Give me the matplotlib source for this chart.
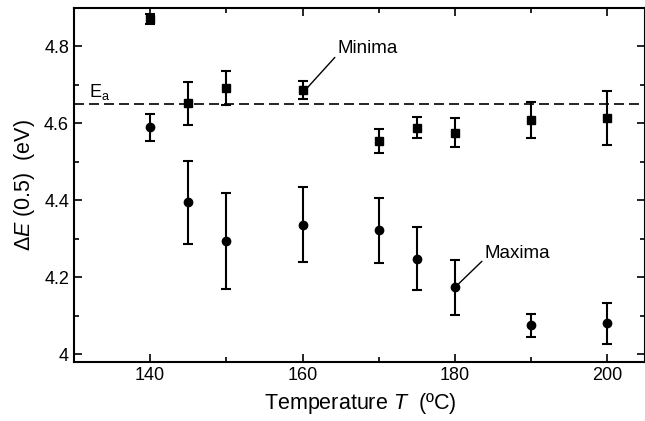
import matplotlib; matplotlib.use("Agg")
import matplotlib.pyplot as plt
from matplotlib.ticker import MultipleLocator, FuncFormatter

plt.rcParams['font.family'] = ['Liberation Sans', 'DejaVu Sans']
plt.rcParams['mathtext.fontset'] = 'custom'
plt.rcParams['mathtext.it'] = 'Liberation Sans:italic'
plt.rcParams['mathtext.rm'] = 'Liberation Sans'

# minima (squares)
t_min = [140, 145, 150, 160, 170, 175, 180, 190, 200]
e_min = [4.872, 4.652, 4.692, 4.687, 4.554, 4.589, 4.576, 4.610, 4.615]
err_min = [0.013, 0.056, 0.045, 0.024, 0.032, 0.028, 0.037, 0.047, 0.070]
# maxima (circles)
t_max = [140, 145, 150, 160, 170, 175, 180, 190, 200]
e_max = [4.590, 4.395, 4.294, 4.337, 4.322, 4.249, 4.174, 4.075, 4.081]
err_max = [0.035, 0.107, 0.125, 0.098, 0.084, 0.083, 0.072, 0.030, 0.053]
e_a = 4.65

fig = plt.figure(figsize=(6.45, 4.21), dpi=100)
ax = fig.add_axes([0.1147, 0.140, 0.886, 0.841])

kw = dict(color='black', ecolor='black', linestyle='none', elinewidth=1.5,
          capsize=3.5, capthick=1.5, markersize=6)
ax.errorbar(t_min, e_min, yerr=err_min, marker='s', **kw)
ax.errorbar(t_max, e_max, yerr=err_max, marker='o', **kw)
ax.axhline(e_a, color='black', linestyle=(0, (6, 3)), linewidth=1.2)
ax.text(132.0, 4.668, r"E$_{\rm a}$", fontsize=13, ha='left', va='baseline')

ax.annotate("Minima", xy=(160.5, 4.69), xytext=(164.6, 4.795), fontsize=13.5,
            ha='left', va='center',
            arrowprops=dict(arrowstyle='-', color='black', lw=1.0, shrinkA=0, shrinkB=0,
                            relpos=(0, 0.15)))
ax.annotate("Maxima", xy=(180.2, 4.178), xytext=(183.9, 4.262), fontsize=13.5,
            ha='left', va='center',
            arrowprops=dict(arrowstyle='-', color='black', lw=1.0, shrinkA=0, shrinkB=0,
                            relpos=(0, 0.2)))

ax.set_xlim(130, 205)
ax.set_ylim(3.98, 4.9)
ax.xaxis.set_major_locator(MultipleLocator(20))
ax.xaxis.set_minor_locator(MultipleLocator(10))
ax.yaxis.set_major_locator(MultipleLocator(0.2))
ax.yaxis.set_minor_locator(MultipleLocator(0.1))
ax.yaxis.set_major_formatter(FuncFormatter(lambda v, p: f"{v:g}" if abs(v - round(v)) > 1e-6 else f"{round(v)}"))
ax.tick_params(which='both', direction='in', top=True, right=True, width=1.2, labelsize=13)
ax.tick_params(which='major', length=6)
ax.tick_params(which='minor', length=3.5)
for s in ax.spines.values():
    s.set_linewidth(1.5)

ax.set_xlabel(r"Temperature $\it{T}$  (ºC)", fontsize=15.5, labelpad=5)
ax.set_ylabel(r"$\Delta\it{E}$ (0.5)  (eV)", fontsize=15.5, labelpad=5)

fig.savefig("out.png", dpi=100)
